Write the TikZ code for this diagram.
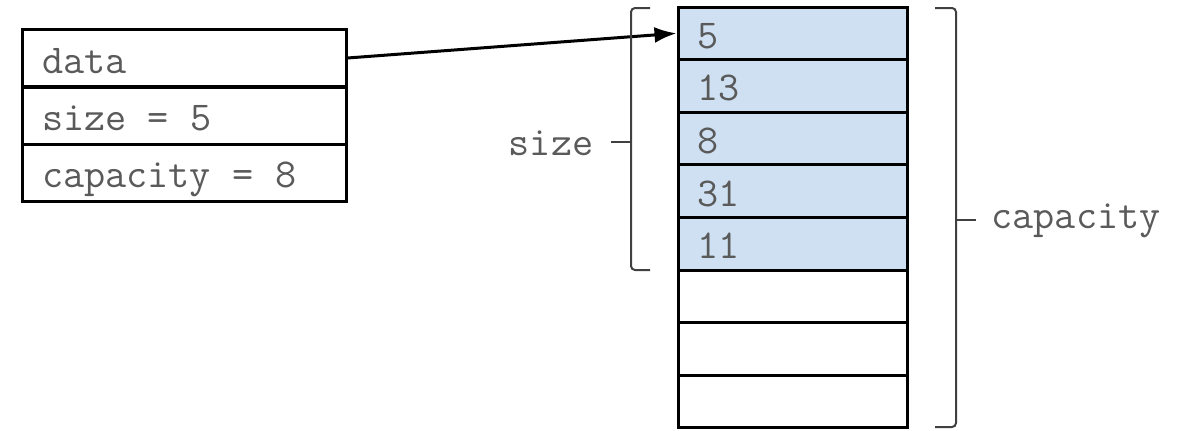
\documentclass[tikz,border=0pt]{standalone}
\usetikzlibrary{arrows.meta}
\definecolor{cellblue}{HTML}{CEE0F1}
\definecolor{txt}{HTML}{5A5A5A}
\definecolor{brc}{HTML}{404040}
\newcommand{\monofont}{\ttfamily\fontsize{20.5}{22}\selectfont\fontdimen2\font=0.525em\fontdimen3\font=0pt\fontdimen4\font=0pt\spaceskip=0pt\xspaceskip=0pt\relax}
\tikzset{
  cell/.style={draw=black, line width=1.5pt, rectangle, inner xsep=10pt,
    text height=15pt, text depth=0pt, text=txt, font=\monofont,
    execute at begin node={\spaceskip=0pt\xspaceskip=0pt\relax}},
  fieldcell/.style={cell, minimum width=162pt, minimum height=28.5pt, text width=142pt},
  arrcell/.style={cell, minimum width=114.5pt, minimum height=26.3pt, text width=95pt, inner xsep=9.5pt},
  usedcell/.style={arrcell, fill=cellblue},
  freecell/.style={arrcell, fill=white},
  bracepath/.style={draw=brc, line width=1pt, rounded corners=2pt},
  lbl/.style={text=txt, font=\monofont, inner sep=0pt}
}
\begin{document}
\begin{tikzpicture}[x=0.5pt, y=-0.5pt]
\useasboundingbox (0,0) rectangle (1184,430);
% struct fields
\node[fieldcell] (d) at (184,58) {data};
\node[fieldcell] (s) at (184,115.5) {size = 5};
\node[fieldcell] (c) at (184,172.5) {capacity = 8};
% array
\node[usedcell] (a1) at (792.5,33.3) {5};
\node[usedcell] (a2) at (792.5,85.9) {13};
\node[usedcell] (a3) at (792.5,138.5) {8};
\node[usedcell] (a4) at (792.5,191.1) {31};
\node[usedcell] (a5) at (792.5,243.7) {11};
\node[freecell] (a6) at (792.5,296.3) {};
\node[freecell] (a7) at (792.5,348.9) {};
\node[freecell] (a8) at (792.5,401.5) {};
% pointer
\draw[line width=1.5pt, -{Latex[length=11pt,width=8pt]}] (d.east) -- (a1.west);
% braces
\path[bracepath] (650,8) -- (631,8) -- (631,270) -- (650,270);
\draw[draw=brc, line width=1pt] (631,142) -- (611,142);
\path[bracepath] (935,8) -- (956,8) -- (956,427) -- (935,427);
\draw[draw=brc, line width=1pt] (956,220) -- (976,220);
% labels
\node[lbl] (sz) at (551,143) {size};
\node[lbl] (cp) at (1076,221) {capacity};
\end{tikzpicture}
\end{document}
